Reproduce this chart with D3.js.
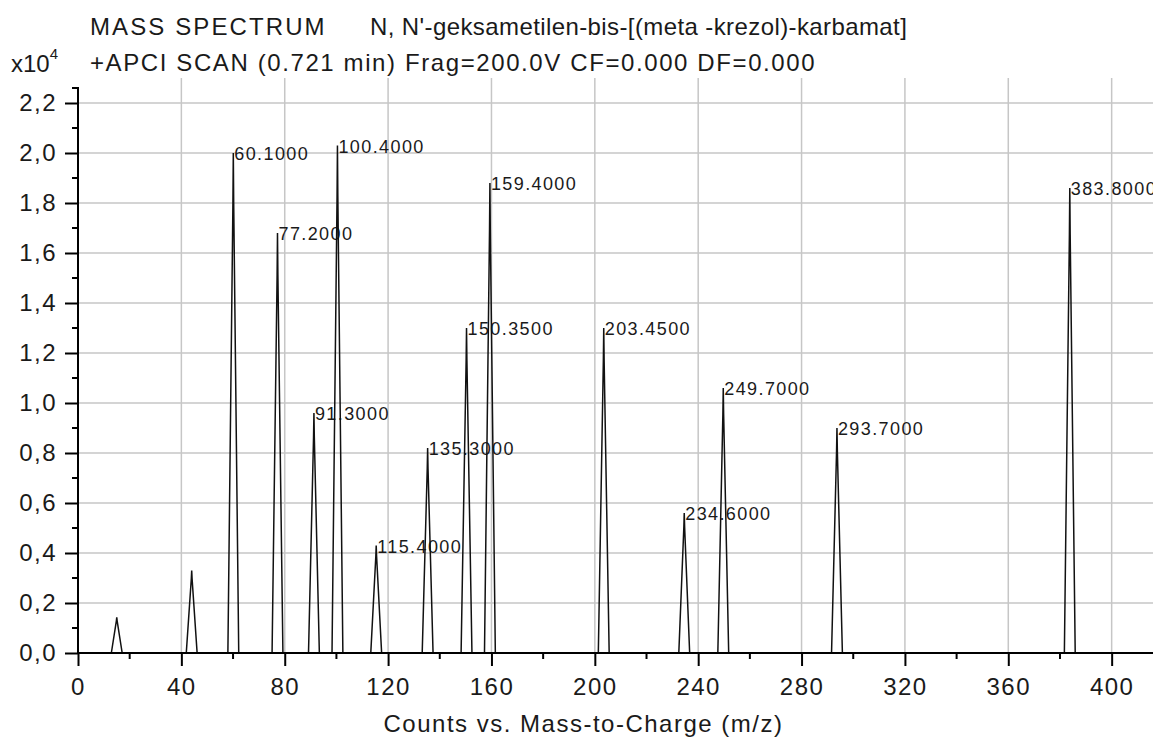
<!DOCTYPE html>
<head>
<meta charset="utf-8">
<script src="https://cdn.jsdelivr.net/npm/d3@7"></script>
<style>
body { margin: 0; background: #fff; }
text { font-family: "Liberation Sans", Arial, sans-serif; fill: #1a1a1a; }
</style>
</head>
<body>
<script>

// peaks: m/z and counts (x10^4)
var peakMz     = [15, 44, 60.1, 77.2, 91.3, 100.4, 115.4, 135.3, 150.35, 159.4, 203.45, 234.6, 249.7, 293.7, 383.8];
var peakCounts = [0.143, 0.33, 2.00, 1.68, 0.96, 2.03, 0.43, 0.82, 1.30, 1.88, 1.30, 0.56, 1.06, 0.90, 1.86];
var peakLabels = ["", "", "60.1000", "77.2000", "91.3000", "100.4000", "115.4000", "135.3000", "150.3500",
                  "159.4000", "203.4500", "234.6000", "249.7000", "293.7000", "383.8000"];

var xTicks = [0, 40, 80, 120, 160, 200, 240, 280, 320, 360, 400];
var xMinor = [20, 60, 100, 140, 180, 220, 260, 300, 340, 380];
var yTicks = [0, 0.2, 0.4, 0.6, 0.8, 1.0, 1.2, 1.4, 1.6, 1.8, 2.0, 2.2];
var yMinor = [0.1, 0.3, 0.5, 0.7, 0.9, 1.1, 1.3, 1.5, 1.7, 1.9, 2.1];

var titleLine1 = "MASS SPECTRUM";
var titleName  = "N, N'-geksametilen-bis-[(meta -krezol)-karbamat]";
var titleLine2 = "+APCI SCAN (0.721 min) Frag=200.0V CF=0.000 DF=0.000";
var xTitle     = "Counts vs. Mass-to-Charge (m/z)";

var width = 1153, height = 745;
var margin = {top: 88, right: 0, bottom: 92, left: 78};
var halfWidth = 2.1;   // half base width of a peak, in m/z

var svg = d3.select("body").append("svg")
    .attr("width", width)
    .attr("height", height);

var x = d3.scaleLinear()
    .domain([0, 416])
    .range([margin.left, width - margin.right]);

var y = d3.scaleLinear()
    .domain([0, 2.2])
    .range([653, 103]);

var comma = d3.formatLocale({decimal: ",", thousands: ".", grouping: [3], currency: ["", ""]}).format(".1f");

// grid
svg.append("g")
    .selectAll("line")
    .data(xTicks.slice(1))
    .enter().append("line")
    .attr("x1", d => x(d)).attr("x2", d => x(d))
    .attr("y1", 78).attr("y2", y(0))
    .attr("stroke", "#c6c6c6").attr("stroke-width", 1.5);

svg.append("g")
    .selectAll("line")
    .data(yTicks.slice(1))
    .enter().append("line")
    .attr("x1", x(0)).attr("x2", width)
    .attr("y1", d => y(d)).attr("y2", d => y(d))
    .attr("stroke", "#c6c6c6").attr("stroke-width", 1.5);

// peak labels
svg.append("g")
    .selectAll("text")
    .data(peakMz.map((m, i) => ({mz: m, v: peakCounts[i], label: peakLabels[i]})).filter(d => d.label))
    .enter().append("text")
    .attr("x", d => x(d.mz) + 1)
    .attr("y", d => y(d.v) + 7)
    .style("font-size", "18px")
    .style("letter-spacing", "1.4px")
    .text(d => d.label);

// peaks as narrow triangles
var line = d3.line()
    .x(d => x(d[0]))
    .y(d => y(d[1]));

svg.append("g")
    .selectAll("path")
    .data(peakMz.map((m, i) => [[m - halfWidth, 0], [m - 0.15, peakCounts[i] * 0.9], [m, peakCounts[i]], [m + 0.15, peakCounts[i] * 0.9], [m + halfWidth, 0]]))
    .enter().append("path")
    .attr("d", line)
    .attr("fill", "none")
    .attr("stroke", "#111")
    .attr("stroke-width", 1.5);

// axes
var xAxis = svg.append("g")
    .attr("transform", `translate(0,${y(0)})`)
    .call(d3.axisBottom(x).tickValues(xTicks).tickSize(13).tickPadding(12).tickSizeOuter(0));
xAxis.select(".domain").attr("d", `M${x(0)},0H${width}`).attr("stroke-width", 2);
xAxis.selectAll(".tick line").attr("stroke-width", 2);
xAxis.selectAll(".tick text")
    .style("font-size", "24px").style("letter-spacing", "1.5px").attr("fill", "#1a1a1a");
xAxis.append("g").selectAll("line")
    .data(xMinor)
    .enter().append("line")
    .attr("x1", d => x(d)).attr("x2", d => x(d))
    .attr("y1", 0).attr("y2", 6)
    .attr("stroke", "#000").attr("stroke-width", 2);

var yAxis = svg.append("g")
    .attr("transform", `translate(${x(0)},0)`)
    .call(d3.axisLeft(y).tickValues(yTicks).tickFormat(comma).tickSize(13).tickPadding(8).tickSizeOuter(0));
yAxis.select(".domain").attr("d", `M-6,${margin.top}H0V${y(0)}`).attr("stroke-width", 2);
yAxis.selectAll(".tick line").attr("stroke-width", 2);
yAxis.selectAll(".tick text")
    .style("font-size", "24px").style("letter-spacing", "1.5px").attr("fill", "#1a1a1a");
yAxis.append("g").selectAll("line")
    .data(yMinor)
    .enter().append("line")
    .attr("x1", -6).attr("x2", 0)
    .attr("y1", d => y(d)).attr("y2", d => y(d))
    .attr("stroke", "#000").attr("stroke-width", 2);

// titles
svg.append("text")
    .attr("x", 90).attr("y", 35)
    .style("font-size", "24px").style("letter-spacing", "2.1px")
    .text(titleLine1);

svg.append("text")
    .attr("x", 370).attr("y", 35)
    .style("font-size", "24px").style("letter-spacing", "0.4px")
    .text(titleName);

svg.append("text")
    .attr("x", 90).attr("y", 71)
    .style("font-size", "24px").style("letter-spacing", "1.6px")
    .text(titleLine2);

var mult = svg.append("text")
    .attr("x", 11).attr("y", 72)
    .style("font-size", "24px");
mult.append("tspan").text("x10");
mult.append("tspan").attr("dy", -13).style("font-size", "15px").text("4");

svg.append("text")
    .attr("x", (x(0) + width) / 2 - 32).attr("y", 732)
    .attr("text-anchor", "middle")
    .style("font-size", "24px").style("letter-spacing", "1.5px")
    .text(xTitle);

</script>
</body>
</html>
